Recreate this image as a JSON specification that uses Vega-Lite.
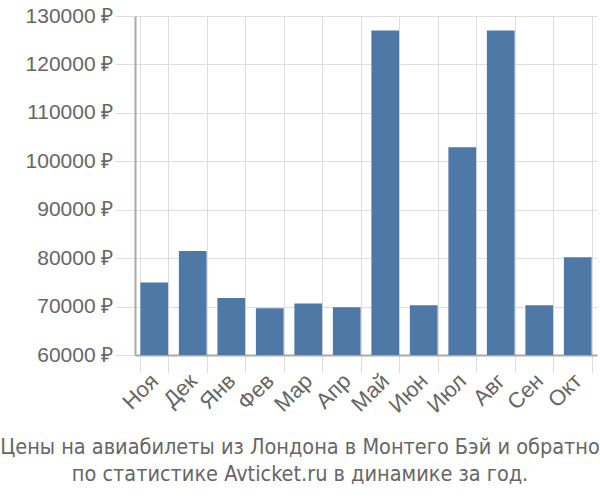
{
  "$schema": "https://vega.github.io/schema/vega-lite/v6.json",
  "width": 462,
  "height": 339,
  "autosize": {"type": "none"},
  "padding": {"left": 135, "top": 16, "right": 3, "bottom": 145},
  "background": "white",
  "title": {
    "text": ["Цены на авиабилеты из Лондона в Монтего Бэй и обратно", "по статистике Avticket.ru в динамике за год."],
    "orient": "bottom",
    "anchor": "middle",
    "dx": -66,
    "offset": 21,
    "font": "DejaVu Sans Condensed, Liberation Sans",
    "fontSize": 21.5,
    "fontWeight": "normal",
    "color": "#666666",
    "lineHeight": 27
  },
  "data": {
    "values": [
      {"month": "Ноя", "price": 74960},
      {"month": "Дек", "price": 81490},
      {"month": "Янв", "price": 71780},
      {"month": "Фев", "price": 69650},
      {"month": "Мар", "price": 70620},
      {"month": "Апр", "price": 69860},
      {"month": "Май", "price": 127000},
      {"month": "Июн", "price": 70270},
      {"month": "Июл", "price": 102900},
      {"month": "Авг", "price": 127000},
      {"month": "Сен", "price": 70270},
      {"month": "Окт", "price": 80190}
    ]
  },
  "mark": {"type": "bar", "color": "#4e79a7", "clip": true},
  "encoding": {
    "x": {
      "field": "month",
      "type": "nominal",
      "sort": null,
      "scale": {"paddingInner": 0.28, "paddingOuter": 0.14},
      "axis": {
        "title": null,
        "labelAngle": -45,
        "labelAlign": "right",
        "labelBaseline": "middle",
        "labelFont": "Liberation Sans",
        "labelFontSize": 22,
        "labelColor": "#666666",
        "labelPadding": 4,
        "tickSize": 18,
        "tickColor": "#dddddd",
        "tickBand": "extent",
        "gridColor": "#dddddd",
        "grid": true,
        "domainColor": "#aaaaaa",
        "domainWidth": 2
      }
    },
    "y": {
      "field": "price",
      "type": "quantitative",
      "scale": {"domain": [60000, 130000], "zero": false, "nice": false},
      "axis": {
        "title": null,
        "values": [60000, 70000, 80000, 90000, 100000, 110000, 120000, 130000],
        "labelExpr": "datum.value + ' ₽'",
        "labelFont": "Liberation Sans",
        "labelFontSize": 21,
        "labelColor": "#666666",
        "labelPadding": 2,
        "tickSize": 20,
        "tickColor": "#dddddd",
        "gridColor": "#dddddd",
        "domainColor": "#aaaaaa",
        "domainWidth": 2
      }
    }
  },
  "config": {"view": {"stroke": null}}
}
